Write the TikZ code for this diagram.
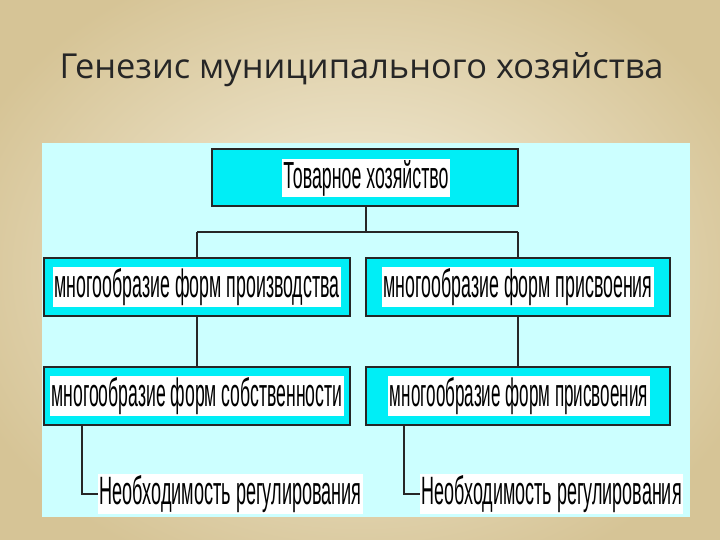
\documentclass[tikz,border=0pt]{standalone}
\usepackage{fontspec}
\setmainfont{Liberation Sans}
\newfontfamily\titlefont{Open Sans}
\usepackage{graphicx}
\definecolor{boxcyan}{RGB}{0,238,246}
\definecolor{panel}{RGB}{204,255,255}
\definecolor{bgin}{RGB}{246,240,222}
\definecolor{bgout}{RGB}{214,196,150}
\begin{document}
\begin{tikzpicture}[x=1pt,y=-1pt,
  cbox/.style={fill=boxcyan, draw=black!85, line width=2pt},
  lbl/.style={fill=white, inner sep=1.5pt},
  conn/.style={draw=black!85, line width=1.6pt}]
\useasboundingbox (0,0) rectangle (720,540);
\shade[inner color=bgin, outer color=bgout] (-60,-60) rectangle (780,600);
\node[font=\titlefont\fontsize{30}{34}\selectfont, text=black!85, anchor=west] (title) at (56,70) {\resizebox{604pt}{!}{Генезис муниципального хозяйства}};
\fill[panel] (42,143) rectangle (690,517);
% boxes
\path[cbox] (212,149) rectangle (518,206);
\path[cbox] (44,258) rectangle (350,316);
\path[cbox] (366,258) rectangle (670,316);
\path[cbox] (44,367) rectangle (350,425);
\path[cbox] (366,367) rectangle (670,425);
\node[lbl] (t0) at (366,178) {\resizebox{165pt}{28pt}{Товарное хозяйство}};
\node[lbl] (a1) at (197,287) {\resizebox{285pt}{29pt}{многообразие форм производства}};
\node[lbl] (b1) at (518,287) {\resizebox{269pt}{29pt}{многообразие форм присвоения}};
\node[lbl] (a2) at (197,396) {\resizebox{291pt}{29pt}{многообразие форм собственности}};
\node[lbl] (b2) at (519,396) {\resizebox{258pt}{29pt}{многообразие форм присвоения}};
\node[lbl,anchor=west] (a3) at (98,494) {\resizebox{262pt}{29pt}{Необходимость регулирования}};
\node[lbl,anchor=west] (b3) at (420,494) {\resizebox{260pt}{29pt}{Необходимость регулирования}};
% connectors
\coordinate (j0) at (366,232);
\coordinate (jl) at (197,232);
\coordinate (jr) at (518,232);
\draw[conn] (366,207) -- (j0);
\draw[conn] (jl) -- (jr);
\draw[conn] (jl) -- (197,257);
\draw[conn] (jr) -- (518,257);
\draw[conn] (197,317) -- (197,366);
\draw[conn] (518,317) -- (518,366);
\draw[conn] (82,426) -- (82,494) -- (a3.west);
\draw[conn] (404,426) -- (404,494) -- (b3.west);
\end{tikzpicture}
\end{document}
